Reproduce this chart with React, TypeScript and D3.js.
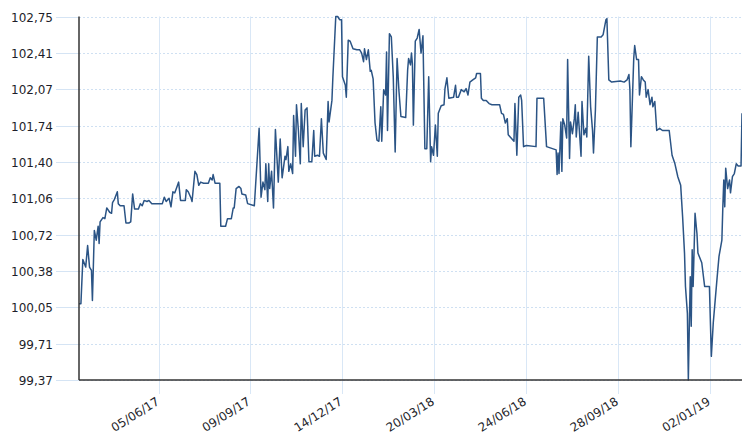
import React from "react";
import * as d3 from "d3";

const startDate = "2017-03-14";
const endOffset = 692;

// days since startDate
const dayOffsets = [
  0,2,4,7,9,11,13,14,16,18,20,21,22,25,27,29,32,34,35,37,
  40,41,43,47,49,52,54,56,58,62,64,66,68,71,73,76,87,89,91,94,
  96,98,100,102,104,106,111,112,114,117,118,121,123,125,127,130,135,137,139,140,
  142,147,148,153,155,159,161,162,164,167,169,170,174,176,183,188,190,192,194,195,
  197,198,199,201,203,205,208,210,212,215,216,218,219,221,223,224,226,227,229,231,232,
  234,236,238,240,243,245,246,249,251,253,255,258,260,261,264,265,268,270,272,274,
  275,278,279,281,283,286,290,293,295,297,298,300,302,304,305,307,309,311,313,315,
  316,318,320,321,322,324,326,328,330,332,334,336,341,343,344,346,347,348,349,
  351,353,355,357,359,361,363,365,367,368,370,372,374,375,378,381,382,384,386,391,
  393,394,396,399,402,404,406,408,411,414,415,419,420,422,425,428,431,439,441,443,
  445,447,448,451,454,455,457,459,461,462,464,467,
  477,478,485,488,498,499,500,501,503,504,505,507,509,510,512,513,515,517,518,519,
  521,524,525,527,529,530,532,534,536,537,539,541,545,547,550,551,553,556,565,569,
  572,574,575,576,
  579,580,582,584,585,587,589,591,592,594,596,598,599,601,603,606,609,616,619,622,
  625,628,630,632,633,635,636,637,638,639,640,641,643,645,646,650,653,658,660,662,
  664,666,668,671,672,673,674,675,677,679,680,682,684,686,688,691,692,
];

const prices = [
  100.08,100.08,100.49,100.42,100.62,100.42,100.39,100.11,100.76,100.67,
  100.80,100.64,100.84,100.88,100.87,100.97,100.93,100.92,101.02,101.05,
  101.12,101.01,100.99,100.99,100.83,100.83,100.84,101.10,100.96,100.96,
  101.01,100.99,101.04,101.03,101.04,101.01,101.01,101.07,101.03,101.06,
  100.98,101.12,101.11,101.16,101.21,101.04,101.04,101.14,101.12,101.06,
  101.03,101.31,101.28,101.18,101.21,101.20,101.20,101.25,101.23,101.28,
  101.20,101.20,100.80,100.80,100.87,100.87,100.97,100.97,101.15,101.17,
  101.15,101.10,101.09,101.01,100.99,101.71,101.07,101.21,101.14,101.38,
  101.03,101.38,101.15,101.31,100.97,101.70,101.21,101.61,101.25,101.45,
  101.42,101.54,101.31,101.38,101.29,101.83,101.45,101.93,101.69,101.38,101.94,
  101.54,101.88,101.90,101.40,101.40,101.69,101.45,101.46,101.45,101.80,
  101.48,101.42,101.96,101.77,101.97,102.19,102.75,102.75,102.72,102.72,
  102.19,102.11,102.00,102.53,102.52,102.45,102.44,102.44,102.41,102.33,
  102.45,102.35,102.44,102.24,102.25,102.17,101.76,101.60,101.59,101.91,
  101.59,102.07,102.02,102.42,101.69,102.59,102.56,102.19,101.49,102.36,
  102.05,101.82,101.81,102.25,102.36,102.30,102.41,102.31,101.74,
  102.52,102.55,102.63,102.41,102.57,101.52,101.52,102.19,101.40,101.54,
  101.46,101.74,101.45,101.85,101.92,101.93,102.08,102.18,101.99,102.00,
  102.11,102.00,102.00,102.07,102.05,102.08,102.02,102.14,102.16,102.18,
  102.22,102.22,101.99,101.97,101.97,101.94,101.93,101.93,101.85,101.84,
  101.76,101.80,101.65,101.62,101.59,101.94,101.46,102.00,102.02,101.97,
  101.54,101.55,
  101.54,101.99,101.99,101.54,101.51,101.28,101.48,101.29,101.77,101.31,
  101.80,101.74,101.62,102.35,101.43,101.77,101.66,101.80,101.93,101.63,
  101.86,101.45,101.96,101.65,101.71,101.63,102.38,101.91,101.69,101.48,
  101.88,102.56,102.56,102.58,102.72,102.73,102.16,102.14,102.15,102.14,
  102.16,102.21,102.07,101.54,
  102.36,102.48,102.35,102.35,102.02,102.19,102.16,102.14,102.00,102.07,
  101.93,102.00,101.91,101.96,101.69,101.71,101.69,101.69,101.46,101.38,
  101.26,101.18,100.89,100.55,100.24,99.99,99.37,99.87,100.33,99.87,
  100.58,100.24,100.92,100.73,100.55,100.46,100.24,100.24,99.59,99.90,
  100.11,100.32,100.52,100.67,100.98,101.23,100.98,101.34,101.15,101.23,
  101.11,101.26,101.29,101.38,101.36,101.36,101.85,
];

const yTickValues = [99.37, 99.708, 100.046, 100.384, 100.722, 101.06, 101.398, 101.736, 102.074, 102.412, 102.75];
const xTickLabels = ["05/06/17", "09/09/17", "14/12/17", "20/03/18", "24/06/18", "28/09/18", "02/01/19"];

const W = 742;
const H = 436;
const left = 79;
const right = 742;
const top = 16.5;
const bottom = 380;

export default function App() {
  const start = d3.utcParse("%Y-%m-%d")(startDate) as Date;
  const end = d3.utcDay.offset(start, endOffset);
  const x = d3.scaleUtc().domain([start, end]).range([left, right]);
  const y = d3.scaleLinear().domain([99.37, 102.75]).range([bottom, top]);
  const data = dayOffsets.map((d, i) => ({ date: d3.utcDay.offset(start, d), value: prices[i] }));
  const line = d3
    .line<{ date: Date; value: number }>()
    .x((d) => x(d.date))
    .y((d) => y(d.value));
  const parseTick = d3.utcParse("%d/%m/%y");
  const fmt = (v: number) => v.toFixed(2).replace(".", ",");
  const font = "'DejaVu Sans', Verdana, sans-serif";

  return (
    <svg
      width={W}
      height={H}
      style={{ position: "absolute", left: 0, top: 0, background: "#fff" }}
      fontFamily={font}
      fontSize={12}
    >
      {yTickValues.map((v, i) => {
        const yy = Math.round(y(v)) + 0.5;
        return (
          <g key={"y" + i}>
            <line x1={56} x2={left} y1={yy} y2={yy} stroke="#d5e4f4" strokeWidth={1} />
            <line x1={left} x2={right} y1={yy} y2={yy} stroke="#cfe0f2" strokeWidth={1} strokeDasharray="2,2" />
            <text x={53} y={yy} dy="0.35em" textAnchor="end" fill="#1e1e2a">
              {fmt(v)}
            </text>
          </g>
        );
      })}
      {xTickLabels.map((lab, i) => {
        const xx = Math.round(x(parseTick(lab) as Date)) + 0.5;
        return (
          <g key={"x" + i}>
            <line x1={xx} x2={xx} y1={top} y2={394} stroke="#d9e7f6" strokeWidth={1} />
            <text
              transform={`translate(${xx - 4},${396}) rotate(-32)`}
              dy="0.75em"
              textAnchor="end"
              fill="#1e1e2a"
            >
              {lab}
            </text>
          </g>
        );
      })}
      <path d={line(data) || ""} fill="none" stroke="#2b5485" strokeWidth={1.5} strokeLinejoin="round" />
      <line x1={left} x2={left} y1={top} y2={bottom} stroke="#333" strokeWidth={1.5} />
      <line x1={left} x2={right} y1={bottom} y2={bottom} stroke="#333" strokeWidth={1.5} />
    </svg>
  );
}
